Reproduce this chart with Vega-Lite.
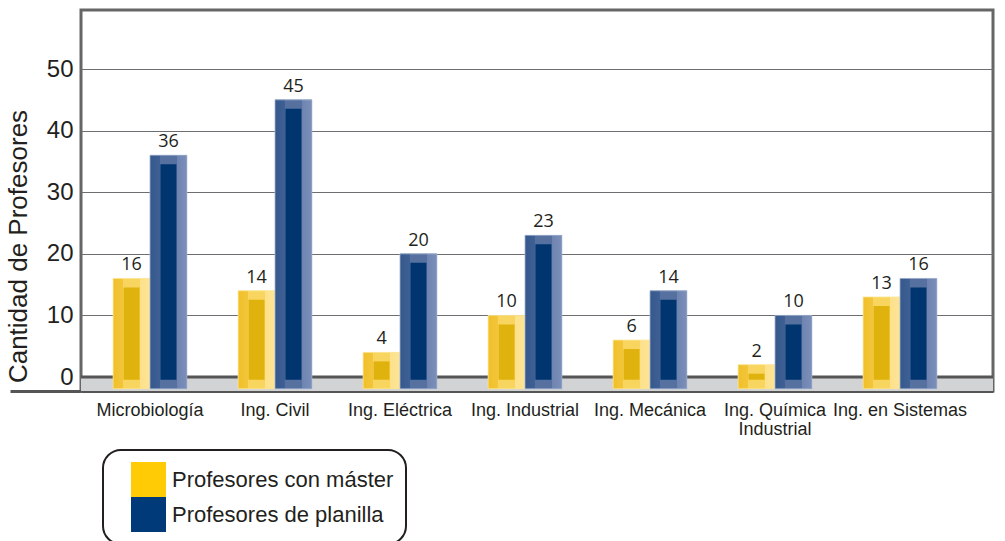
{
  "$schema": "https://vega.github.io/schema/vega-lite/v6.json",
  "autosize": "none",
  "width": 912,
  "height": 381,
  "padding": {"left": 81, "top": 10, "right": 12, "bottom": 150},
  "background": "white",
  "config": {
    "view": {"stroke": "#666666", "strokeWidth": 3},
    "font": "Liberation Sans"
  },
  "resolve": {"scale": {"xOffset": "independent"}},
  "data": {
    "values": [
      {"carrera": "Microbiología", "serie": "Profesores con máster", "valor": 16},
      {"carrera": "Microbiología", "serie": "Profesores de planilla", "valor": 36},
      {"carrera": "Ing. Civil", "serie": "Profesores con máster", "valor": 14},
      {"carrera": "Ing. Civil", "serie": "Profesores de planilla", "valor": 45},
      {"carrera": "Ing. Eléctrica", "serie": "Profesores con máster", "valor": 4},
      {"carrera": "Ing. Eléctrica", "serie": "Profesores de planilla", "valor": 20},
      {"carrera": "Ing. Industrial", "serie": "Profesores con máster", "valor": 10},
      {"carrera": "Ing. Industrial", "serie": "Profesores de planilla", "valor": 23},
      {"carrera": "Ing. Mecánica", "serie": "Profesores con máster", "valor": 6},
      {"carrera": "Ing. Mecánica", "serie": "Profesores de planilla", "valor": 14},
      {"carrera": "Ing. Química Industrial", "serie": "Profesores con máster", "valor": 2},
      {"carrera": "Ing. Química Industrial", "serie": "Profesores de planilla", "valor": 10},
      {"carrera": "Ing. en Sistemas", "serie": "Profesores con máster", "valor": 13},
      {"carrera": "Ing. en Sistemas", "serie": "Profesores de planilla", "valor": 16}
    ]
  },
  "layer": [
    {
      "data": {"values": [{}]},
      "mark": {"type": "rect", "fill": "#d1d3d4"},
      "encoding": {
        "y": {
          "datum": 0,
          "type": "quantitative",
          "scale": {"domain": [-2.27, 59.58], "nice": false, "zero": false},
          "axis": {
            "title": "Cantidad de Profesores",
            "values": [-2.27, 0, 10, 20, 30, 40, 50],
            "labelExpr": "datum.value < 0 ? '' : datum.label",
            "labelFont": "Liberation Sans",
            "labelFontSize": 24,
            "labelColor": "#231f20",
            "labelPadding": -63,
            "ticks": true,
            "tickSize": 71,
            "tickColor": {"condition": {"test": "datum.value < 0", "value": "#555555"}, "value": "transparent"},
            "tickWidth": 3,
            "domain": false,
            "grid": true,
            "gridColor": {"condition": {"test": "datum.value < 0", "value": "transparent"}, "value": "#6d6e71"},
            "gridWidth": 1,
            "titleFont": "Liberation Sans",
            "titleFontSize": 26,
            "titleFontWeight": "normal",
            "titleColor": "#231f20",
            "titleAngle": -90,
            "titleX": -63,
            "titleY": 236,
            "titleAlign": "center",
            "titleBaseline": "middle"
          }
        },
        "y2": {"datum": -2.27}
      }
    },
    {
      "data": {"values": [{}]},
      "mark": {"type": "rule", "color": "#555555", "strokeWidth": 3},
      "encoding": {"y": {"datum": 0, "type": "quantitative"}}
    },
    {
      "mark": {"type": "bar"},
      "encoding": {
        "x": {
          "field": "carrera",
          "type": "nominal",
          "sort": null,
          "scale": {"type": "band", "paddingInner": 0.41, "paddingOuter": 0.353, "align": 0.364, "round": false},
          "axis": {
            "title": null,
            "labelAngle": 0,
            "labelFont": "Liberation Sans",
            "labelFontSize": 18,
            "labelColor": "#231f20",
            "labelPadding": 10,
            "labelBaseline": "top",
            "labelLineHeight": 19,
            "labelExpr": "datum.value == 'Ing. Química Industrial' ? ['Ing. Química', 'Industrial'] : datum.value",
            "ticks": false,
            "domainColor": "#555555",
            "domainWidth": 3,
            "grid": false,
            "labelLimit": 300
          }
        },
        "xOffset": {"field": "serie", "type": "nominal", "scale": {"domain": ["Profesores con máster", "Profesores de planilla"], "paddingInner": 0, "paddingOuter": 0}},
        "y": {"field": "valor", "type": "quantitative"},
        "y2": {"datum": -1.9},
        "color": {
          "field": "serie",
          "type": "nominal",
          "scale": {"domain": ["Profesores con máster", "Profesores de planilla"], "range": ["#ffcb05", "#003a78"]},
          "legend": {
            "title": null,
            "orient": "none",
            "legendX": 22,
            "legendY": 440,
            "direction": "vertical",
            "symbolType": "square",
            "symbolSize": 1225,
            "symbolStrokeWidth": 0,
            "symbolOffset": 16,
            "rowPadding": 0,
            "labelOffset": 6,
            "labelFont": "Liberation Sans",
            "labelFontSize": 22,
            "labelColor": "#231f20",
            "labelLimit": 500,
            "padding": 12,
            "cornerRadius": 18,
            "strokeColor": "#231f20",
            "fillColor": "white",
            "encode": {
              "legend": {"update": {"strokeWidth": {"value": 2}}}
            }
          }
        }
      }
    },
    {
      "transform": [{"filter": "datum.serie == 'Profesores con máster'"}],
      "mark": {
        "type": "bar",
        "stroke": "#fbe7a0",
        "strokeWidth": 0.8,
        "fill": {
          "gradient": "linear", "x1": 0, "x2": 1, "y1": 0, "y2": 0,
          "stops": [
            {"offset": 0, "color": "#f0c02a"},
            {"offset": 0.28, "color": "#f3c53a"},
            {"offset": 0.281, "color": "#f8d55e"},
            {"offset": 0.72, "color": "#f8d55e"},
            {"offset": 0.721, "color": "#fde08a"},
            {"offset": 1, "color": "#fde596"}
          ]
        }
      },
      "encoding": {
        "x": {"field": "carrera", "type": "nominal", "sort": null},
        "xOffset": {"field": "serie", "type": "nominal", "scale": {"domain": ["Profesores con máster", "Profesores de planilla"], "paddingInner": 0, "paddingOuter": 0}},
        "y": {"field": "valor", "type": "quantitative"},
        "y2": {"datum": -1.9}
      }
    },
    {
      "transform": [{"filter": "datum.serie == 'Profesores de planilla'"}],
      "mark": {
        "type": "bar",
        "stroke": "#a9b7d3",
        "strokeWidth": 0.8,
        "fill": {
          "gradient": "linear", "x1": 0, "x2": 1, "y1": 0, "y2": 0,
          "stops": [
            {"offset": 0, "color": "#35588d"},
            {"offset": 0.28, "color": "#3f6094"},
            {"offset": 0.281, "color": "#56709f"},
            {"offset": 0.72, "color": "#56709f"},
            {"offset": 0.721, "color": "#6e83b0"},
            {"offset": 1, "color": "#7b8fba"}
          ]
        }
      },
      "encoding": {
        "x": {"field": "carrera", "type": "nominal", "sort": null},
        "xOffset": {"field": "serie", "type": "nominal", "scale": {"domain": ["Profesores con máster", "Profesores de planilla"], "paddingInner": 0, "paddingOuter": 0}},
        "y": {"field": "valor", "type": "quantitative"},
        "y2": {"datum": -1.9}
      }
    },
    {
      "transform": [{"filter": "datum.serie == 'Profesores con máster'"}],
      "mark": {"type": "bar", "fill": "#e0b20e", "yOffset": 9, "y2Offset": -9},
      "encoding": {
        "x": {"field": "carrera", "type": "nominal", "sort": null},
        "xOffset": {"field": "serie", "type": "nominal", "scale": {"domain": ["Profesores con máster", "Profesores de planilla"], "paddingInner": 0.566, "paddingOuter": 0.283}},
        "y": {"field": "valor", "type": "quantitative"},
        "y2": {"datum": -1.9}
      }
    },
    {
      "transform": [{"filter": "datum.serie == 'Profesores de planilla'"}],
      "mark": {"type": "bar", "fill": "#00356f", "yOffset": 9, "y2Offset": -9},
      "encoding": {
        "x": {"field": "carrera", "type": "nominal", "sort": null},
        "xOffset": {"field": "serie", "type": "nominal", "scale": {"domain": ["Profesores con máster", "Profesores de planilla"], "paddingInner": 0.566, "paddingOuter": 0.283}},
        "y": {"field": "valor", "type": "quantitative"},
        "y2": {"datum": -1.9}
      }
    },
    {
      "mark": {"type": "text", "font": "Open Sans", "fontSize": 18, "color": "#231f20", "baseline": "bottom", "dy": -4},
      "encoding": {
        "x": {"field": "carrera", "type": "nominal", "sort": null},
        "xOffset": {"field": "serie", "type": "nominal", "scale": {"type": "band", "domain": ["Profesores con máster", "Profesores de planilla"], "paddingInner": 0, "paddingOuter": 0}},
        "y": {"field": "valor", "type": "quantitative"},
        "text": {"field": "valor", "type": "quantitative"}
      }
    }
  ]
}
